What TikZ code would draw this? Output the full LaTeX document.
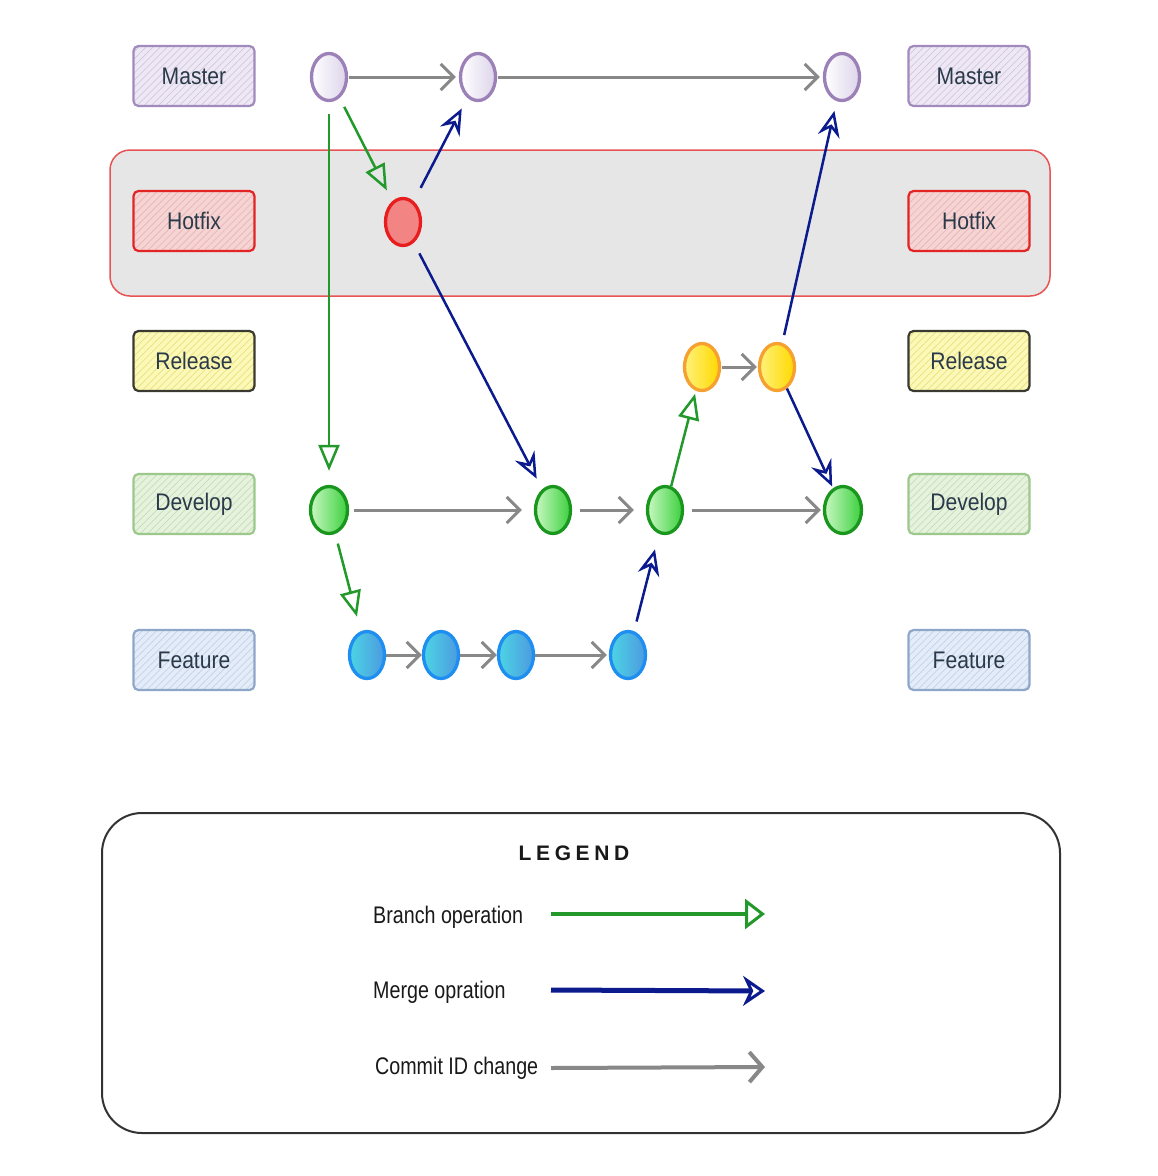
\documentclass[tikz,border=0pt]{standalone}
\usepackage{fontspec}
\setmainfont{Liberation Sans}
\newfontfamily\lblfam{Liberation Sans}[FakeStretch=0.88]
\newfontfamily\legfam{Liberation Sans}[FakeStretch=0.82]
\newfontfamily\titlefam{Liberation Sans}[LetterSpace=22]
\usetikzlibrary{shapes.geometric,arrows.meta,patterns.meta}
\definecolor{labtext}{HTML}{2B3A4A}
\definecolor{mpur}{HTML}{A08ABE}
\definecolor{mfill}{HTML}{EEE8F4}
\definecolor{mhat}{HTML}{D2C6E2}
\definecolor{hred}{HTML}{E22424}
\definecolor{hfill}{HTML}{F6D4D4}
\definecolor{hhat}{HTML}{E8B4B4}
\definecolor{rdark}{HTML}{3A3A30}
\definecolor{rfill}{HTML}{FCF8B8}
\definecolor{rhat}{HTML}{E8E27C}
\definecolor{dgr}{HTML}{9CC88C}
\definecolor{dfill}{HTML}{E6F2DE}
\definecolor{dhat}{HTML}{C4DEB4}
\definecolor{fbl}{HTML}{8EA6C8}
\definecolor{ffill}{HTML}{E4ECF8}
\definecolor{fhat}{HTML}{C2D2EC}
\definecolor{bandfill}{HTML}{E6E6E6}
\definecolor{bandline}{HTML}{E85454}
\definecolor{cgray}{HTML}{888888}
\definecolor{cgreen}{HTML}{22992A}
\definecolor{cblue}{HTML}{0B1A8C}
\definecolor{cmpur}{HTML}{9C80B8}
\definecolor{cmfill}{HTML}{DDD4EA}
\definecolor{chred}{HTML}{E81E1E}
\definecolor{chfill}{HTML}{F28484}
\definecolor{crorg}{HTML}{F5A030}
\definecolor{cry1}{HTML}{FFF27A}
\definecolor{cry2}{HTML}{FFD800}
\definecolor{cdg}{HTML}{1A961E}
\definecolor{cdg1}{HTML}{C8F8C2}
\definecolor{cdg2}{HTML}{3CD03E}
\definecolor{cfb}{HTML}{1E8EF0}
\definecolor{cfb1}{HTML}{4CD4E4}
\definecolor{cfb2}{HTML}{4C9AE0}
\tikzset{
  lab/.style n args={3}{draw=#1, line width=2.2pt, rounded corners=5pt,
    minimum width=121pt, minimum height=60pt, inner sep=0pt,
    preaction={fill=#2},
    pattern={Lines[angle=45,distance=5pt,line width=0.7pt]}, pattern color=#3,
    text=labtext, font=\lblfam\fontsize{24pt}{28pt}\selectfont},
  commit/.style={ellipse, line width=3.3pt, minimum width=35pt, minimum height=47pt, inner sep=0pt},
  mc/.style={commit, draw=cmpur, left color=white, right color=cmfill},
  hc/.style={commit, draw=chred, fill=chfill},
  rc/.style={commit, draw=crorg, left color=cry1, right color=cry2},
  dc/.style={commit, draw=cdg, left color=cdg1, right color=cdg2},
  fc/.style={commit, draw=cfb, left color=cfb1, right color=cfb2},
  cid/.style={draw=cgray, line width=3pt, -{Straight Barb[length=13pt,width=26pt]}},
  brn/.style={draw=cgreen, line width=2.5pt, -{Triangle[open,length=26pt,width=21pt]}},
  mrg/.style={draw=cblue, line width=2.5pt, -{Stealth[open,length=26pt,width=22pt,inset=9pt]}},
  legtext/.style={anchor=west, inner sep=0pt, text=black!90, font=\legfam\fontsize{24pt}{28pt}\selectfont},
}
\begin{document}
\begin{tikzpicture}[x=1pt,y=-1pt]
\useasboundingbox[fill=white] (0,0) rectangle (1158,1176);
% hotfix band
\node[draw=bandline, fill=bandfill, line width=1.5pt, rounded corners=20pt,
  minimum width=940pt, minimum height=146pt] (band) at (580,223) {};
% labels left
\node[lab={mpur}{mfill}{mhat}] (lM) at (194,76) {Master};
\node[lab={hred}{hfill}{hhat}] (lH) at (194,221) {Hotfix};
\node[lab={rdark}{rfill}{rhat}] (lR) at (194,361) {Release};
\node[lab={dgr}{dfill}{dhat}] (lD) at (194,504) {Develop};
\node[lab={fbl}{ffill}{fhat}] (lF) at (194,660) {Feature};
% labels right
\node[lab={mpur}{mfill}{mhat}] (rM) at (969,76) {Master};
\node[lab={hred}{hfill}{hhat}] (rH) at (969,221) {Hotfix};
\node[lab={rdark}{rfill}{rhat}] (rR) at (969,361) {Release};
\node[lab={dgr}{dfill}{dhat}] (rD) at (969,504) {Develop};
\node[lab={fbl}{ffill}{fhat}] (rF) at (969,660) {Feature};
% commits
\node[mc] (M1) at (329,77) {};
\node[mc] (M2) at (478,77) {};
\node[mc] (M3) at (842,77) {};
\node[hc] (H1) at (403,222) {};
\node[rc] (R1) at (702,367) {};
\node[rc] (R2) at (777,367) {};
\node[dc, minimum width=37pt] (D1) at (329,510) {};
\node[dc] (D2) at (553,510) {};
\node[dc] (D3) at (665,510) {};
\node[dc, minimum width=37pt] (D4) at (843,510) {};
\node[fc] (F1) at (367,655) {};
\node[fc] (F2) at (441,655) {};
\node[fc] (F3) at (516,655) {};
\node[fc] (F4) at (628,655) {};
% commit id changes
\draw[cid, shorten <=1pt, shorten >=3pt] (M1) -- (M2);
\draw[cid, shorten <=1pt, shorten >=3pt] (M2) -- (M3);
\draw[cid, shorten <=5pt, shorten >=12pt] (D1) -- (D2);
\draw[cid, shorten <=8pt, shorten >=12pt] (D2) -- (D3);
\draw[cid, shorten <=8pt, shorten >=2pt] (D3) -- (D4);
\draw[cid, shorten <=1pt, shorten >=1pt] (R1) -- (R2);
\draw[cid, shorten <=0pt, shorten >=0pt] (F1) -- (F2);
\draw[cid, shorten <=0pt, shorten >=0pt] (F2) -- (F3);
\draw[cid, shorten <=0pt, shorten >=2pt] (F3) -- (F4);
% branch operations
\draw[brn, shorten <=12pt, shorten >=14pt] (M1) -- (D1);
\draw[brn, shorten <=10pt, shorten >=12pt] (M1) -- (H1);
\draw[brn, shorten <=0pt, shorten >=3pt] (D3) -- (R1);
\draw[brn, shorten <=10pt, shorten >=15pt] (D1) -- (F1);
% merge operations
\draw[mrg, shorten <=15pt, shorten >=12pt] (H1) -- (M2);
\draw[mrg, shorten <=12pt, shorten >=12pt] (H1) -- (D2);
\draw[mrg, shorten <=8pt, shorten >=10pt] (R2) -- (M3);
\draw[mrg, shorten <=0pt, shorten >=2pt] (R2) -- (D4);
\draw[mrg, shorten <=10pt, shorten >=16pt] (F4) -- (D3);
% legend
\node[draw=black!80, line width=2pt, rounded corners=40pt,
  minimum width=958pt, minimum height=320pt] (legend) at (581,973) {};
\node[font=\titlefam\bfseries\fontsize{21pt}{24pt}\selectfont, text=black!90] (ltitle) at (574,853) {LEGEND};
\node[legtext] (tB) at (373,917) {Branch operation};
\node[legtext] (tM) at (373,992) {Merge opration};
\node[legtext] (tC) at (375,1068) {Commit ID change};
\coordinate (bS) at (551,914); \coordinate (bE) at (765,914);
\coordinate (mS) at (551,990); \coordinate (mE) at (765,991);
\coordinate (cS) at (551,1068); \coordinate (cE) at (765,1067);
\draw[draw=cgreen, line width=4.5pt, -{Triangle[open,length=20pt,width=30pt,line width=3pt]}] (bS) -- (bE);
\draw[draw=cblue, line width=5pt, -{Stealth[open,length=22pt,width=30pt,inset=7pt,line width=3pt]}] (mS) -- (mE);
\draw[draw=cgray, line width=4pt, -{Straight Barb[length=13pt,width=30pt]}] (cS) -- (cE);
\end{tikzpicture}
\end{document}
